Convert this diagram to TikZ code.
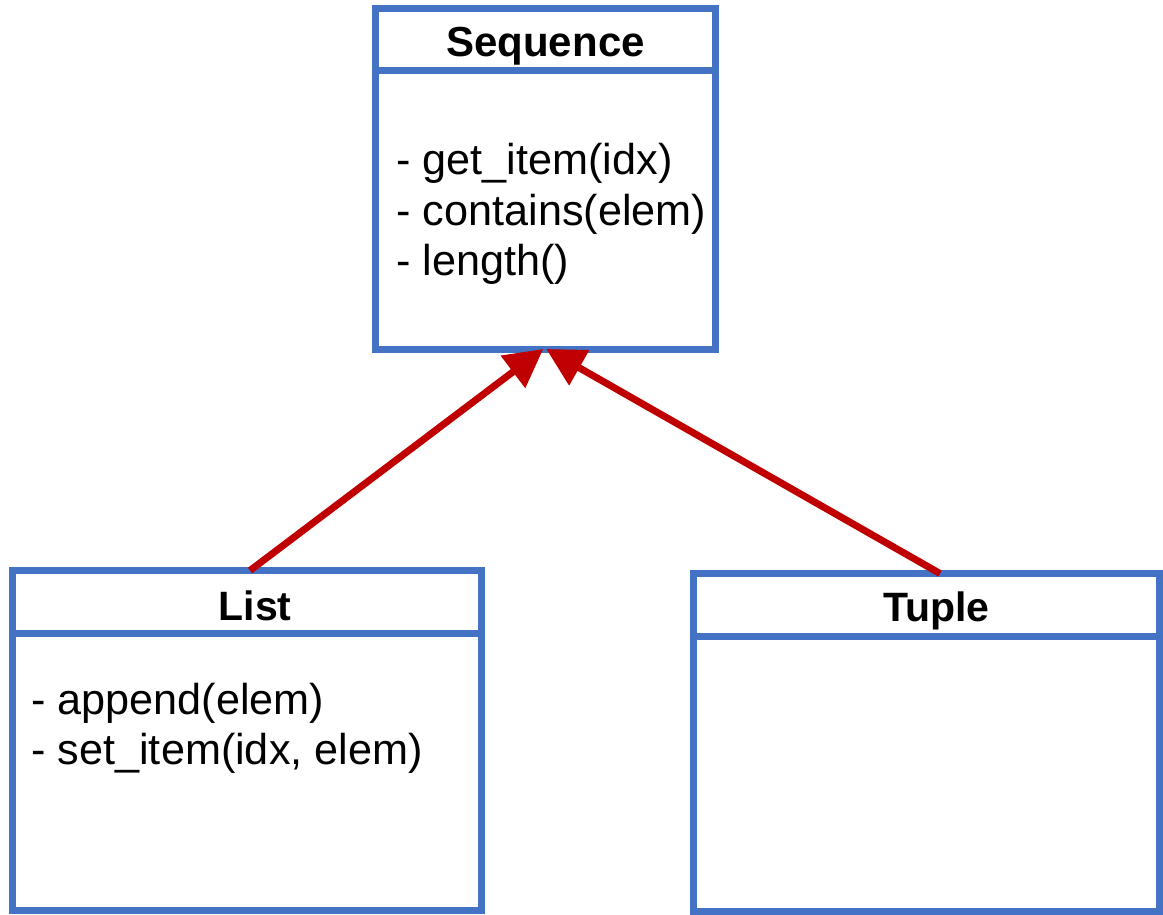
\documentclass[tikz,border=0pt]{standalone}
\usepackage{fontspec}
\setmainfont{Liberation Sans}
\usetikzlibrary{positioning,arrows.meta}

\definecolor{umlblue}{HTML}{4472C4}
\definecolor{umlred}{HTML}{C00000}

\begin{document}
\begin{tikzpicture}[
  x=0.5pt, y=-0.5pt,
  every node/.style={
    rectangle,
  },
  classbox/.style={draw=umlblue, line width=3.5pt, outer sep=0pt, inner sep=0pt},
  classtitle/.style={anchor=base, inner sep=0pt, font=\bfseries\fontsize{20.5}{24}\selectfont},
  method/.style={anchor=base west, inner sep=0pt, font=\fontsize{21.6}{25}\selectfont},
  inherits/.style={draw=umlred, line width=3.5pt, -{Triangle[length=19pt,width=19.5pt]}}
]
\useasboundingbox (0,0) rectangle (1163,915);

% Sequence
\node[classbox, minimum width=169.75pt, minimum height=31pt] (seqhead) at (545.25,40) {};
\node[classbox, minimum width=169.75pt, minimum height=139pt, below=0pt of seqhead] (seqbody) {};
\node[classtitle, font=\bfseries\fontsize{21}{24}\selectfont] (seqtitle) at (545.5,57) {Sequence};
\node[method] (getitem) at (396,175) {- get\_item(idx)};
\node[method] (contains) at (396,225.5) {- contains(elem)};
\node[method] (length) at (396,276) {- length()};

% List
\node[classbox, minimum width=234.5pt, minimum height=31.25pt] (listhead) at (246.5,601.75) {};
\node[classbox, minimum width=234.5pt, minimum height=138.5pt, below=0pt of listhead] (listbody) {};
\node[classtitle] (listtitle) at (255,620) {List};
\node[method] (append) at (31,714) {- append(elem)};
\node[method] (setitem) at (31,764) {- set\_item(idx, elem)};

% Tuple
\node[classbox, minimum width=233pt, minimum height=31.25pt] (tuplehead) at (926.5,604.75) {};
\node[classbox, minimum width=233pt, minimum height=137.5pt, below=0pt of tuplehead] (tuplebody) {};
\node[classtitle] (tupletitle) at (936.5,621.5) {Tuple};

\path[inherits] ([xshift=1.75pt]listhead.north) -- ([xshift=-1pt]seqbody.south);
\path[inherits] ([xshift=6.75pt]tuplehead.north) -- ([xshift=0.5pt]seqbody.south);
\end{tikzpicture}
\end{document}
